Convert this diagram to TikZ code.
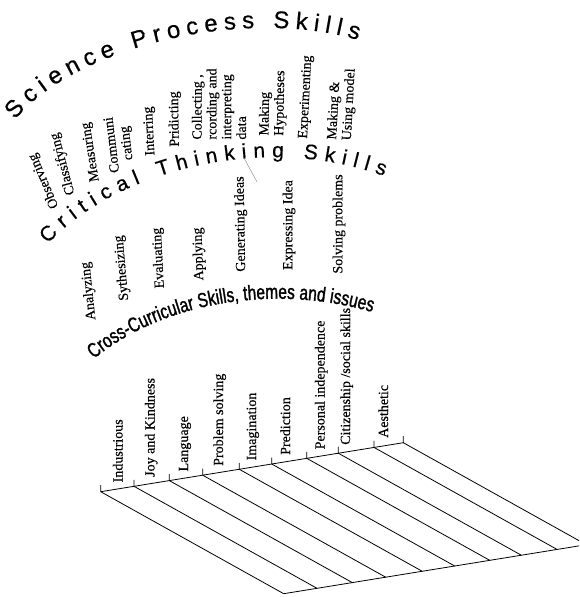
\documentclass[tikz,border=0pt]{standalone}
\usepackage{fontspec}
\setmainfont[FakeBold=0.25]{Liberation Serif}
\newfontfamily\titlefont[FakeBold=0.5]{Liberation Sans}
\newfontfamily\narrowfont[FakeStretch=0.75,FakeBold=1.4]{Liberation Sans}
\usetikzlibrary{decorations.text,calc}
\begin{document}
\begin{tikzpicture}[x=1pt,y=-1pt,
  item/.style={font=\fontsize{14}{14.8}\selectfont, inner sep=0pt, align=left},
  lab/.style={font=\fontsize{14}{15}\selectfont, inner sep=0pt, rotate=90, anchor=base west},
  grid/.style={line width=0.8pt, black},
  arctext/.style={decorate, decoration={text along path, text align={fit to path}}}
]
\useasboundingbox (0,0) rectangle (579,597);

% ---------- curved titles ----------
\path[arctext, decoration={text={|\titlefont\fontsize{24}{28}\selectfont|Science Process Skills}}]
  (15,120) .. controls (70,50) and (240,5) .. (358,40);
\path[arctext, decoration={text={|\titlefont\fontsize{21}{25}\selectfont|Critical Thinking Skills}}]
  (48,244) .. controls (105,180) and (250,128) .. (384,176);
\path[arctext, decoration={text={|\narrowfont\fontsize{20.5}{24}\selectfont|Cross-Curricular Skills, themes and issues}}]
  (94,359) .. controls (152,310) and (260,280) .. (372,312);

% ---------- science process skills ----------
\node[item, rotate=113] (obs) at (44,181) {Observing};
\node[item, rotate=105] (cla) at (63,164) {Classifying};
\node[item, rotate=99]  (mea) at (91,152) {Measuring};
\node[item, rotate=97, align=center] (com) at (120,144) {Communi\\cating};
\node[item, rotate=93]  (inf) at (150,131) {Interring};
\node[item, rotate=91]  (pre) at (175,119) {Pridicting};
\node[item, rotate=90]  (col) at (219,104) {Collecting ,\\rcording and\\interpreting\\data};
\node[item, rotate=89]  (hyp) at (273,103) {Making\\Hypotheses};
\node[item, rotate=87]  (exp) at (306,97) {Experimenting};
\node[item, rotate=87]  (mod) at (342,104) {Making \&\\Using model};

% ---------- critical thinking skills ----------
\node[item, rotate=96] (ana) at (89,291) {Analyzing};
\node[item, rotate=95] (syn) at (122,268) {Sythesizing};
\node[item, rotate=93] (eva) at (159,258) {Evaluating};
\node[item, rotate=92] (app) at (199,254) {Applying};
\node[item, rotate=91] (gen) at (241,224) {Generating Ideas};
\node[item, rotate=90] (exi) at (289,225) {Expressing Idea};
\node[item, rotate=90] (sol) at (339,224) {Solving problems};

% stray stroke
\coordinate (s1) at (244,158);
\coordinate (s2) at (257,182);
\draw[gray, line width=0.4pt] (s1) -- (s2);

% ---------- cross-curricular grid ----------
\coordinate (t0) at (100.7,491.7);
\coordinate (t1) at (134.0,486.3);
\coordinate (t2) at (169.3,480.6);
\coordinate (t3) at (202.7,475.2);
\coordinate (t4) at (239.3,469.3);
\coordinate (t5) at (271.7,464.0);
\coordinate (t6) at (306.7,458.3);
\coordinate (t7) at (338.3,453.2);
\coordinate (t8) at (374.0,447.4);
\coordinate (t9) at (403.3,442.7);
\foreach \i in {0,...,9} {
  \coordinate (b\i) at ($(t\i)+(183,102)$);
  \coordinate (k\i) at ($(t\i)+(0,-6.5)$);
}
\begin{scope}
\clip (0,0) rectangle (579,597);
\draw[grid] (t0) -- (t9);
\draw[grid] (b0) -- (b9);
\foreach \i in {0,...,9} {
  \draw[grid] (k\i) -- (t\i) -- (b\i);
}
\end{scope}

\node[lab] (l1) at (122.5,482.5) {Industrious};
\node[lab] (l2) at (154.5,477) {Joy and Kindness};
\node[lab] (l3) at (188,471.6) {Language};
\node[lab] (l4) at (223,466) {Problem solving};
\node[lab] (l5) at (256,460.5) {Imagination};
\node[lab] (l6) at (290,455) {Prediction};
\node[lab] (l7) at (324.5,449.5) {Personal independence};
\node[lab] (l8) at (350,445) {Citizenship /social skills};
\node[lab] (l9) at (388,438) {Aesthetic};
\end{tikzpicture}
\end{document}
